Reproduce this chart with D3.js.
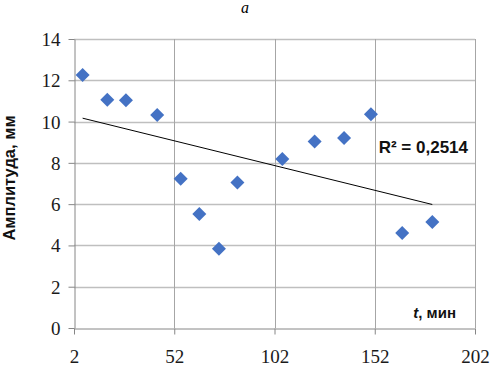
<!DOCTYPE html>
<html><head><meta charset="utf-8">
<script src="https://cdn.jsdelivr.net/npm/d3@7"></script>
<style>body{margin:0;background:#fff}svg{display:block}
.serif{font-family:'Liberation Serif','Times New Roman',Times,serif}
.sans{font-family:'Liberation Sans',Arial,'DejaVu Sans',sans-serif}
</style>
</head><body>
<script>
const tValues = [6.3, 18.6, 27.9, 43.5, 55.2, 64.5, 74.3, 83.5, 105.9, 122, 136.7, 150.1, 165.7, 180.7];
const amplitude = [12.26, 11.06, 11.03, 10.32, 7.23, 5.52, 3.84, 7.05, 8.19, 9.03, 9.2, 10.35, 4.6, 5.13];
const xTicks = [2, 52, 102, 152, 202];
const yTicks = [0, 2, 4, 6, 8, 10, 12, 14];
const titleText = "a";
const yLabel = "Амплитуда, мм";
const r2Label = "R² = 0,2514";

const W = 493, H = 366;
const svg = d3.select("body").append("svg").attr("width", W).attr("height", H);
const x = d3.scaleLinear().domain([2, 202]).range([74, 475]);
const y = d3.scaleLinear().domain([0, 14]).range([328, 39]);

// grid
svg.append("g").selectAll("line").data(yTicks.filter(d => d > 0)).join("line")
  .attr("x1", x(2)).attr("x2", x(202)).attr("y1", d => Math.round(y(d)) + 0.5).attr("y2", d => Math.round(y(d)) + 0.5)
  .attr("stroke", "#bfbfbf").attr("stroke-width", 1.3);
svg.append("g").selectAll("line").data(xTicks.filter(d => d > 2)).join("line")
  .attr("y1", y(14)).attr("y2", y(0)).attr("x1", d => Math.round(x(d)) + 0.5).attr("x2", d => Math.round(x(d)) + 0.5)
  .attr("stroke", "#a6a6a6").attr("stroke-width", 1);

// axes
const xAxis = d3.axisBottom(x).tickValues(xTicks).tickSize(6).tickSizeOuter(0);
const gx = svg.append("g").attr("transform", `translate(0,${Math.round(y(0)) + 0.5})`).call(xAxis);
const yAxis = d3.axisLeft(y).tickValues(yTicks).tickSize(6).tickSizeOuter(0);
const gy = svg.append("g").attr("transform", `translate(${Math.round(x(2)) + 0.5},0)`).call(yAxis);
[gx, gy].forEach(g => {
  g.attr("font-family", null).attr("font-size", null);
  g.select(".domain").attr("stroke", "#868686");
  g.selectAll(".tick line").attr("stroke", "#868686");
  g.selectAll("text").attr("class", "serif").style("font-size", "19px").attr("fill", "#1a1a1a");
});
gx.selectAll(".tick text").attr("dy", 0).attr("y", 34);
gy.selectAll(".tick text").attr("x", -14).attr("dy", "0.34em");

// trend line (least squares)
const n = tValues.length;
const mx = d3.mean(tValues), my = d3.mean(amplitude);
let sxy = 0, sxx = 0;
for (let i = 0; i < n; i++) { sxy += (tValues[i] - mx) * (amplitude[i] - my); sxx += (tValues[i] - mx) ** 2; }
const slope = sxy / sxx, icpt = my - slope * mx;
const xs = d3.extent(tValues);
svg.append("line")
  .attr("x1", x(xs[0])).attr("y1", y(icpt + slope * xs[0]))
  .attr("x2", x(xs[1])).attr("y2", y(icpt + slope * xs[1]))
  .attr("stroke", "#000").attr("stroke-width", 1);

// points
const sym = d3.symbol().type(d3.symbolSquare).size(98);
svg.append("g").selectAll("path").data(tValues.map((t, i) => [t, amplitude[i]])).join("path")
  .attr("d", sym)
  .attr("transform", d => `translate(${x(d[0])},${y(d[1])}) rotate(45)`)
  .attr("fill", "#4472c4");

// texts
svg.append("text").attr("class", "serif").attr("x", 245).attr("y", 13).attr("text-anchor", "middle")
  .style("font-style", "italic").style("font-size", "16px").text(titleText);
svg.append("text").attr("class", "sans").attr("transform", "translate(15,178) rotate(-90)").attr("text-anchor", "middle")
  .style("font-weight", "bold").style("font-size", "16.5px")
  .attr("fill", "#111").text(yLabel);
svg.append("text").attr("class", "sans").attr("x", 468).attr("y", 153).attr("text-anchor", "end")
  .style("font-weight", "bold").style("font-size", "17px")
  .attr("fill", "#111").text(r2Label);
const tl = svg.append("text").attr("class", "sans").attr("x", 456).attr("y", 318).attr("text-anchor", "end")
  .style("font-weight", "bold").style("font-size", "15px").attr("fill", "#111");
tl.append("tspan").style("font-style", "italic").text("t");
tl.append("tspan").text(", мин");
</script>
</body></html>
